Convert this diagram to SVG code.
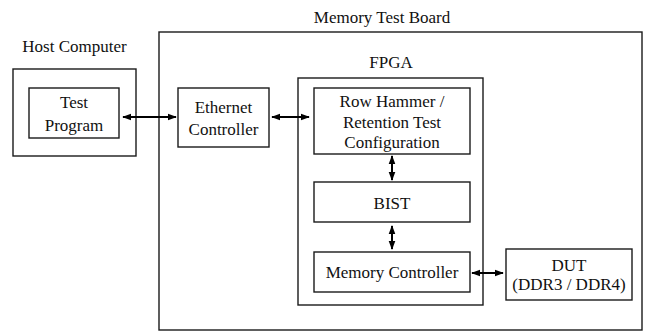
<svg xmlns="http://www.w3.org/2000/svg" width="645" height="332" viewBox="0 0 645 332">
  <style>
    .box { fill: #ffffff; stroke: #1a1a1a; stroke-width: 1.4; }
    .lbl { font-family: "Liberation Serif", "Times New Roman", serif; font-size: 17px; fill: #111111; text-anchor: middle; }
    .link { stroke: #000000; stroke-width: 2; fill: none; marker-start: url(#head); marker-end: url(#head); }
  </style>
  <defs>
    <marker id="head" viewBox="0 0 10 10" refX="9" refY="5" markerWidth="4.5" markerHeight="4.5" orient="auto-start-reverse" markerUnits="strokeWidth">
      <path d="M0,1.3 L10,5 L0,8.7 Z" fill="#000000"/>
    </marker>
  </defs>
  <rect width="645" height="332" fill="#ffffff"/>

  <g id="host-computer">
    <text class="lbl" x="74.5" y="52">Host Computer</text>
    <rect class="box" x="13" y="69" width="123" height="87"/>
  </g>
  <g id="memory-test-board">
    <text class="lbl" x="382" y="23">Memory Test Board</text>
    <rect class="box" x="159" y="32" width="483" height="298"/>
  </g>
  <g id="fpga">
    <text class="lbl" x="391" y="68">FPGA</text>
    <rect class="box" x="298" y="78" width="185" height="227"/>
  </g>
  <g id="test-program">
    <rect class="box" x="29" y="88" width="90" height="50"/>
    <text class="lbl" x="74" y="108">Test</text>
    <text class="lbl" x="74" y="131">Program</text>
  </g>
  <g id="ethernet-controller">
    <rect class="box" x="178" y="88" width="91" height="59"/>
    <text class="lbl" x="223.5" y="113">Ethernet</text>
    <text class="lbl" x="223.5" y="135">Controller</text>
  </g>
  <g id="test-configuration">
    <rect class="box" x="314" y="88" width="156" height="66"/>
    <text class="lbl" x="392" y="107">Row Hammer /</text>
    <text class="lbl" x="392" y="127.5">Retention Test</text>
    <text class="lbl" x="392" y="148">Configuration</text>
  </g>
  <g id="bist">
    <rect class="box" x="314" y="182" width="156" height="40"/>
    <text class="lbl" x="392" y="209">BIST</text>
  </g>
  <g id="memory-controller">
    <rect class="box" x="314" y="252" width="156" height="40"/>
    <text class="lbl" x="392" y="278">Memory Controller</text>
  </g>
  <g id="dut">
    <rect class="box" x="506" y="249" width="126" height="51"/>
    <text class="lbl" x="569" y="271">DUT</text>
    <text class="lbl" x="569" y="290">(DDR3 / DDR4)</text>
  </g>

  <g id="connectors">
    <line class="link" x1="123" y1="117" x2="176" y2="117"/>
    <line class="link" x1="272" y1="117" x2="309" y2="117"/>
    <line class="link" x1="392" y1="156" x2="392" y2="180"/>
    <line class="link" x1="392" y1="226" x2="392" y2="249"/>
    <line class="link" x1="472" y1="273" x2="503" y2="273"/>
  </g>
</svg>
